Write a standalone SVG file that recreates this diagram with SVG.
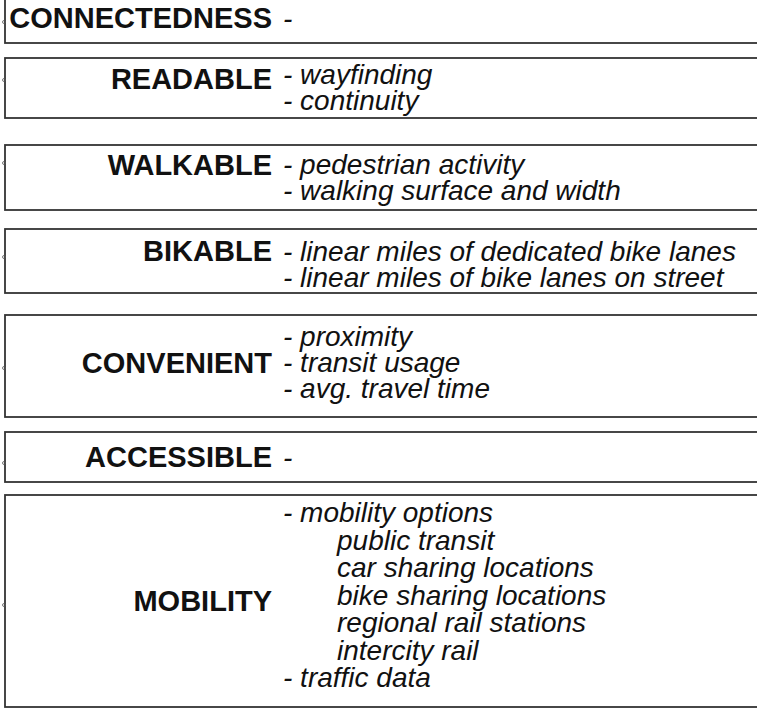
<svg xmlns="http://www.w3.org/2000/svg" width="757" height="708" viewBox="0 0 757 708">
<style>
.box{fill:#fff;stroke:#333;stroke-width:1.8}
.port{fill:none;stroke:#555;stroke-width:0.8}
.lbl{font-family:"Liberation Sans",Arial,sans-serif;font-weight:bold;font-size:29px;fill:#111;text-anchor:end}
.it{font-family:"Liberation Sans",Arial,sans-serif;font-style:italic;font-size:28px;fill:#111}
</style>
<rect width="757" height="708" fill="#fff"/>
<g id="connectedness">
<rect class="box" x="5" y="-10" width="770" height="53"/>
<text class="lbl" x="272" y="28">CONNECTEDNESS</text>
<text class="it" x="283" y="28">-</text>
</g>
<g id="readable">
<rect class="box" x="5" y="58" width="770" height="60"/>
<text class="lbl" x="272" y="89">READABLE</text>
<text class="it" x="283" y="84"><tspan x="283" y="84">- wayfinding</tspan><tspan x="283" y="110">- continuity</tspan></text>
</g>
<g id="walkable">
<rect class="box" x="5" y="145" width="770" height="65"/>
<text class="lbl" x="272" y="175">WALKABLE</text>
<text class="it"><tspan x="283" y="174">- pedestrian activity</tspan><tspan x="283" y="200">- walking surface and width</tspan></text>
</g>
<g id="bikable">
<rect class="box" x="5" y="229" width="770" height="64"/>
<text class="lbl" x="272" y="261">BIKABLE</text>
<text class="it"><tspan x="283" y="261">- linear miles of dedicated bike lanes</tspan><tspan x="283" y="287">- linear miles of bike lanes on street</tspan></text>
</g>
<g id="convenient">
<rect class="box" x="5" y="315" width="770" height="102"/>
<text class="lbl" x="272" y="373">CONVENIENT</text>
<text class="it"><tspan x="283" y="346">- proximity</tspan><tspan x="283" y="372">- transit usage</tspan><tspan x="283" y="398">- avg. travel time</tspan></text>
</g>
<g id="accessible">
<rect class="box" x="5" y="432" width="770" height="50"/>
<text class="lbl" x="272" y="467">ACCESSIBLE</text>
<text class="it" x="283" y="467">-</text>
</g>
<g id="mobility">
<rect class="box" x="5" y="495" width="770" height="212"/>
<text class="lbl" x="272" y="611">MOBILITY</text>
<text class="it"><tspan x="283" y="522">- mobility options</tspan><tspan x="337" y="549.5">public transit</tspan><tspan x="337" y="577">car sharing locations</tspan><tspan x="337" y="604.5">bike sharing locations</tspan><tspan x="337" y="632">regional rail stations</tspan><tspan x="337" y="659.5">intercity rail</tspan><tspan x="283" y="687">- traffic data</tspan></text>
</g>
<g id="connectors">
<circle class="port" cx="4" cy="22" r="1.5"/>
<circle class="port" cx="4" cy="80" r="1.5"/>
<circle class="port" cx="4" cy="163" r="1.5"/>
<circle class="port" cx="4" cy="257" r="1.5"/>
<circle class="port" cx="4" cy="368" r="1.5"/>
<circle class="port" cx="4" cy="463" r="1.5"/>
<circle class="port" cx="4" cy="605" r="1.5"/>
</g>
</svg>
